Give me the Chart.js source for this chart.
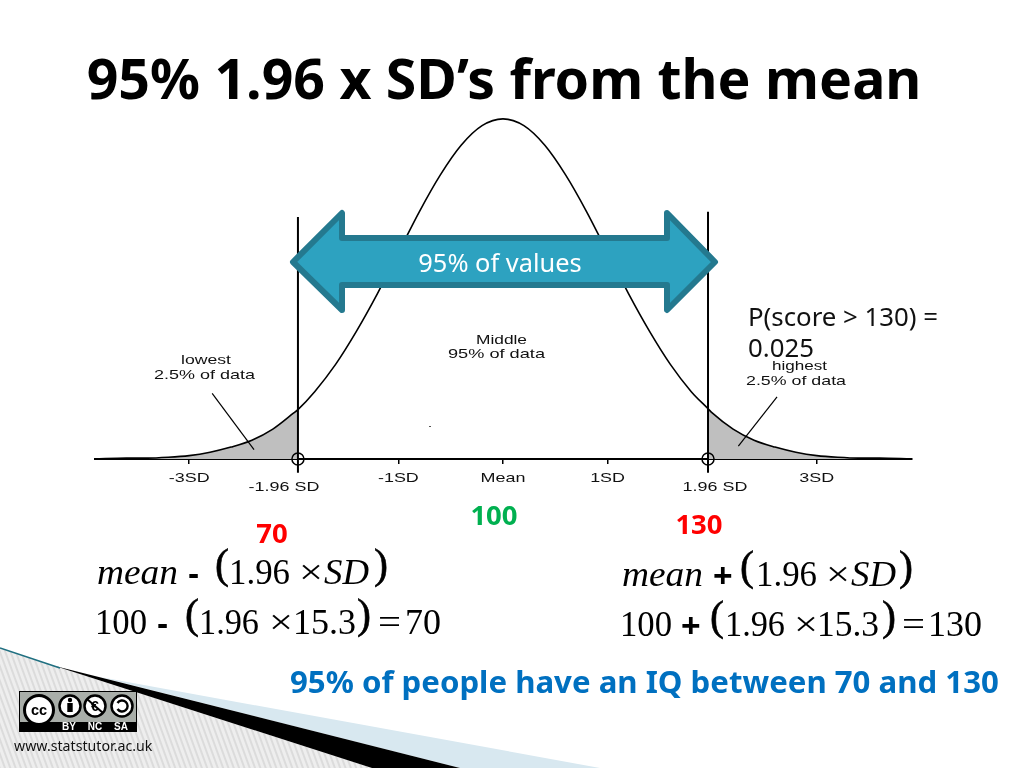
<!DOCTYPE html>
<html>
<head>
<meta charset="utf-8">
<title>95% 1.96 x SD's from the mean</title>
<script src="https://cdn.jsdelivr.net/npm/chart.js@4"></script>
<style>
  html, body { margin: 0; padding: 0; background: #fff; }
  #slide { position: relative; width: 1024px; height: 768px; overflow: hidden; }
  #slide canvas, #slide svg { position: absolute; left: 0; top: 0; }
  .deco { z-index: 0; }
  .over { z-index: 2; pointer-events: none; }
  #chart { z-index: 1; }
  .body { font-family: "Noto Sans", sans-serif; }
  .math { font-family: "Liberation Serif", serif; font-size: 35px; fill: #000; }
  .par { font-family: "Liberation Serif", serif; font-size: 42px; fill: #000; stroke: #000; stroke-width: 0.6; }
  .sym { font-family: "Liberation Sans", sans-serif; font-size: 33.5px; font-weight: bold; fill: #000; }
  .img { font-family: "Liberation Sans", sans-serif; font-size: 13px; fill: #111; }
  .cc { font-family: "Liberation Sans", sans-serif; font-weight: bold; fill: #000; }
  .ccw { font-family: "Liberation Sans", sans-serif; font-weight: bold; font-size: 10px; fill: #fff; }
</style>
</head>
<body>
<div id="slide">
  <svg class="deco" width="1024" height="768">
    <defs>
      <pattern id="hatch" width="5" height="5" patternUnits="userSpaceOnUse" patternTransform="rotate(-20)">
        <rect width="5" height="5" fill="#eeeeee"/>
        <line x1="2" y1="0" x2="2" y2="5" stroke="#c4c4c4" stroke-width="0.9"/>
      </pattern>
    </defs>
    <polygon points="0,648 55,666 372,768 0,768" fill="url(#hatch)"/>
    <polygon points="100,677 600,768 460,768" fill="#d8e8f0"/>
    <polygon points="55,666 460,768 372,768" fill="#000"/>
    <line x1="0" y1="648" x2="60" y2="668" stroke="#1f6f80" stroke-width="1.5"/>
  </svg>

  <canvas id="chart" width="1024" height="768"></canvas>

  <svg class="over" width="1024" height="768" id="overlay">
    <text class="body" x="504" y="99" text-anchor="middle" font-size="55.4" font-weight="bold" fill="#000">95% 1.96 x SD’s from the mean</text>

    <polygon points="293,262 342,213 342,238 667,238 667,213 715,262 667,310 667,285 342,285 342,310"
             fill="#2da2c0" stroke="#24798f" stroke-width="6" stroke-linejoin="round"/>
    <text class="body" x="500" y="272" text-anchor="middle" font-size="25.4" fill="#fff">95% of values</text>

    <text class="body" x="748" y="326" font-size="25.8" fill="#111">P(score &gt; 130) =</text>
    <text class="body" x="748" y="357" font-size="25.8" fill="#111">0.025</text>

    <text class="img" x="181" y="364" textLength="50" lengthAdjust="spacingAndGlyphs">lowest</text>
    <text class="img" x="154" y="379" textLength="101" lengthAdjust="spacingAndGlyphs">2.5% of data</text>
    <text class="img" x="476" y="344" textLength="51" lengthAdjust="spacingAndGlyphs">Middle</text>
    <text class="img" x="448" y="358" textLength="97" lengthAdjust="spacingAndGlyphs">95% of data</text>
    <text class="img" x="772" y="370" textLength="55" lengthAdjust="spacingAndGlyphs">highest</text>
    <text class="img" x="746" y="385" textLength="100" lengthAdjust="spacingAndGlyphs">2.5% of data</text>
    <rect x="429" y="426" width="2" height="1" fill="#555"/>

    <text class="body" x="272" y="543" text-anchor="middle" font-size="27.5" font-weight="bold" fill="#ff0000">70</text>
    <text class="body" x="494" y="525" text-anchor="middle" font-size="27.5" font-weight="bold" fill="#00b050">100</text>
    <text class="body" x="699" y="534" text-anchor="middle" font-size="27.5" font-weight="bold" fill="#ff0000">130</text>

    <text class="math" x="97" y="584" font-style="italic" textLength="81" lengthAdjust="spacingAndGlyphs">mean</text>
    <text class="sym" x="188" y="585">-</text>
    <text class="par" x="215" y="578">(</text>
    <text class="math" x="229" y="584" textLength="61" lengthAdjust="spacingAndGlyphs">1.96</text>
    <text class="math" x="299" y="584" textLength="24" lengthAdjust="spacingAndGlyphs">×</text>
    <text class="math" x="324" y="584" font-style="italic" textLength="45" lengthAdjust="spacingAndGlyphs">SD</text>
    <text class="par" x="374" y="578">)</text>

    <text class="math" x="95" y="634" textLength="52" lengthAdjust="spacingAndGlyphs">100</text>
    <text class="sym" x="157" y="635">-</text>
    <text class="par" x="185" y="628">(</text>
    <text class="math" x="199" y="634" textLength="60" lengthAdjust="spacingAndGlyphs">1.96</text>
    <text class="math" x="269" y="634" textLength="24" lengthAdjust="spacingAndGlyphs">×</text>
    <text class="math" x="293" y="634" textLength="63" lengthAdjust="spacingAndGlyphs">15.3</text>
    <text class="par" x="357" y="628">)</text>
    <text class="math" x="378" y="634" textLength="23" lengthAdjust="spacingAndGlyphs">=</text>
    <text class="math" x="405" y="634" textLength="36" lengthAdjust="spacingAndGlyphs">70</text>

    <text class="math" x="622" y="586" font-style="italic" textLength="81" lengthAdjust="spacingAndGlyphs">mean</text>
    <text class="sym" x="713" y="587">+</text>
    <text class="par" x="740" y="580">(</text>
    <text class="math" x="756" y="586" textLength="61" lengthAdjust="spacingAndGlyphs">1.96</text>
    <text class="math" x="826" y="586" textLength="24" lengthAdjust="spacingAndGlyphs">×</text>
    <text class="math" x="851" y="586" font-style="italic" textLength="45" lengthAdjust="spacingAndGlyphs">SD</text>
    <text class="par" x="899" y="580">)</text>

    <text class="math" x="620" y="636" textLength="52" lengthAdjust="spacingAndGlyphs">100</text>
    <text class="sym" x="681" y="637">+</text>
    <text class="par" x="710" y="630">(</text>
    <text class="math" x="725" y="636" textLength="60" lengthAdjust="spacingAndGlyphs">1.96</text>
    <text class="math" x="794" y="636" textLength="24" lengthAdjust="spacingAndGlyphs">×</text>
    <text class="math" x="817" y="636" textLength="62" lengthAdjust="spacingAndGlyphs">15.3</text>
    <text class="par" x="882" y="630">)</text>
    <text class="math" x="902" y="636" textLength="23" lengthAdjust="spacingAndGlyphs">=</text>
    <text class="math" x="928" y="636" textLength="54" lengthAdjust="spacingAndGlyphs">130</text>

    <text class="body" x="290" y="693" font-size="31.2" font-weight="bold" fill="#0070c0">95% of people have an IQ between 70 and 130</text>
    <text class="body" x="14" y="751" font-size="14.2" fill="#111">www.statstutor.ac.uk</text>

    <!-- licence badge -->
    <rect x="19" y="691" width="118" height="41" fill="#000"/>
    <rect x="20" y="692" width="116" height="30" fill="#a9aea9"/>
    <circle cx="39" cy="710" r="14.5" fill="#fff" stroke="#000" stroke-width="3"/>
    <text class="cc" x="39" y="715" text-anchor="middle" font-size="14.5">cc</text>
    <circle cx="70" cy="706" r="10.5" fill="#fff" stroke="#000" stroke-width="2.5"/>
    <circle cx="70" cy="700" r="2.2" fill="#000"/>
    <rect x="67.3" y="703" width="5.4" height="9" fill="#000"/>
    <circle cx="95" cy="706" r="10.5" fill="#fff" stroke="#000" stroke-width="2.5"/>
    <text class="cc" x="95" y="711" text-anchor="middle" font-size="14">€</text>
    <line x1="87" y1="699" x2="103" y2="713" stroke="#000" stroke-width="2"/>
    <circle cx="122" cy="706" r="10.5" fill="#fff" stroke="#000" stroke-width="2.5"/>
    <path d="M117.5 703 A5.5 5.5 0 1 1 117.5 709" fill="none" stroke="#000" stroke-width="2.4"/>
    <text class="ccw" x="69" y="730" text-anchor="middle">BY</text>
    <text class="ccw" x="95" y="730" text-anchor="middle">NC</text>
    <text class="ccw" x="121" y="730" text-anchor="middle">SA</text>
  </svg>
</div>

<script>
// normal curve: position in SD, height of the curve
const curveSD = [-3.9, -3.6, -3.4, -3.2, -3.0, -2.8, -2.6, -2.4, -2.2, -2.0, -1.96, -1.8, -1.6, -1.4, -1.2, -1.0, -0.8, -0.6, -0.4, -0.2, 0,
  0.2, 0.4, 0.6, 0.8, 1.0, 1.2, 1.4, 1.6, 1.8, 1.96, 2.0, 2.2, 2.4, 2.6, 2.8, 3.0, 3.2, 3.4, 3.6, 3.9];
const curveHeight = [0.000, 0.001, 0.001, 0.002, 0.004, 0.008, 0.014, 0.022, 0.035, 0.054, 0.058, 0.079, 0.111, 0.150, 0.194, 0.242, 0.290, 0.333, 0.368, 0.391, 0.399,
  0.391, 0.368, 0.333, 0.290, 0.242, 0.194, 0.150, 0.111, 0.079, 0.059, 0.054, 0.035, 0.022, 0.014, 0.008, 0.004, 0.002, 0.001, 0.001, 0.000];

const tickValues = [-3, -1, 0, 1, 3];
const tickLabels = ['-3SD', '-1SD', 'Mean', '1SD', '3SD'];

const cutLower = -1.96;
const cutUpper = 1.96;
const cutLabels = ['-1.96 SD', '1.96 SD'];
const cutLineLeftEnds = [-0.016, 0.284];
const cutLineRightEnds = [-0.016, 0.29];

const leaderLeftSD = [-2.78, -2.38];
const leaderLeftHeight = [0.077, 0.011];
const leaderRightSD = [2.62, 2.25];
const leaderRightHeight = [0.073, 0.015];

const curvePoints = curveSD.map((x, i) => ({ x, y: curveHeight[i] }));

function lineSet(points, width) {
  return {
    type: 'scatter',
    data: points,
    showLine: true,
    borderColor: '#000',
    borderWidth: width,
    pointRadius: 0,
    fill: false,
    clip: false,
  };
}

function tailSet(points) {
  return {
    type: 'scatter',
    data: points,
    showLine: true,
    borderWidth: 0,
    pointRadius: 0,
    cubicInterpolationMode: 'monotone',
    backgroundColor: '#bfbfbf',
    fill: 'origin',
  };
}

function cutPoint(x) {
  return {
    type: 'scatter',
    data: [{ x, y: 0 }],
    pointRadius: 6,
    pointBackgroundColor: 'rgba(255,255,255,0)',
    pointBorderColor: '#000',
    pointBorderWidth: 1.5,
    clip: false,
  };
}

// tick labels in the picture are stretched sideways, so they are drawn here
const stretchedTicks = {
  id: 'stretchedTicks',
  afterDraw(chart) {
    const ctx = chart.ctx;
    const scale = chart.scales.x;
    const put = (text, value, y, dx) => {
      ctx.save();
      ctx.translate(scale.getPixelForValue(value) + dx, y);
      ctx.scale(1.38, 1);
      ctx.font = '13px "Liberation Sans"';
      ctx.fillStyle = '#111';
      ctx.textAlign = 'center';
      ctx.fillText(text, 0, 0);
      ctx.restore();
    };
    tickValues.forEach((v, i) => put(tickLabels[i], v, 482, 0));
    put(cutLabels[0], cutLower, 491, -14);
    put(cutLabels[1], cutUpper, 491, 7);
  },
};

new Chart(document.getElementById('chart'), {
  type: 'scatter',
  data: {
    datasets: [
      cutPoint(cutLower),
      cutPoint(cutUpper),
      lineSet(cutLineLeftEnds.map((y) => ({ x: cutLower, y })), 2),
      lineSet(cutLineRightEnds.map((y) => ({ x: cutUpper, y })), 2),
      lineSet(leaderLeftSD.map((x, i) => ({ x, y: leaderLeftHeight[i] })), 1.2),
      lineSet(leaderRightSD.map((x, i) => ({ x, y: leaderRightHeight[i] })), 1.2),
      { ...lineSet(curvePoints, 1.6), cubicInterpolationMode: 'monotone' },
      tailSet(curvePoints.filter((p) => p.x <= cutLower)),
      tailSet(curvePoints.filter((p) => p.x >= cutUpper)),
    ],
  },
  options: {
    responsive: false,
    animation: false,
    layout: { padding: { left: 95, right: 112, top: 118, bottom: 269 } },
    plugins: { legend: { display: false }, tooltip: { enabled: false } },
    scales: {
      x: {
        type: 'linear',
        min: -3.9,
        max: 3.91,
        afterBuildTicks: (scale) => {
          scale.ticks = tickValues.map((value) => ({ value }));
        },
        afterFit: (scale) => {
          scale.height = 40;
        },
        ticks: { display: false },
        grid: { drawOnChartArea: false, tickLength: 5, color: '#000', lineWidth: 1.5 },
        border: { color: '#000', width: 2 },
      },
      y: { display: false, min: 0, max: 0.4 },
    },
  },
  plugins: [stretchedTicks],
});
</script>
</body>
</html>
